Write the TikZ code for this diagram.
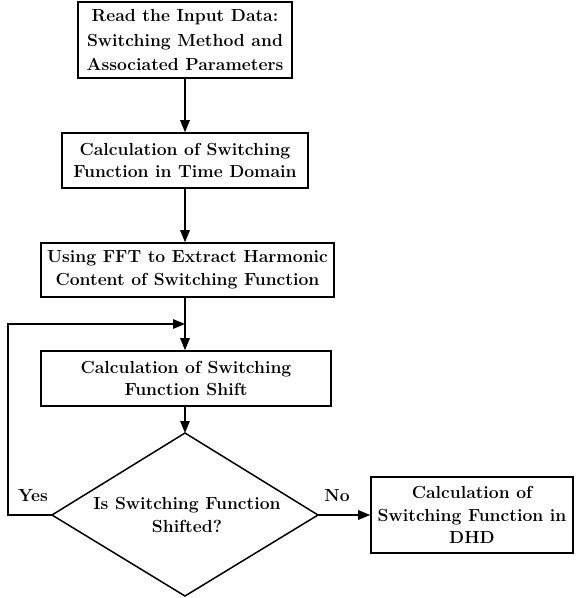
\documentclass[tikz,border=0pt]{standalone}
\usetikzlibrary{arrows.meta}
\begin{document}
\begin{tikzpicture}[x=1pt,y=-1pt,
  box/.style={draw, line width=1.6pt, align=center, inner sep=0pt,
    font=\fontsize{17.5}{22.5}\selectfont\bfseries},
  txt/.style={align=center, inner sep=0pt, font=\fontsize{17.5}{23.5}\selectfont\bfseries},
  lbl/.style={inner sep=0pt, font=\fontsize{17.5}{20}\selectfont\bfseries},
  conn/.style={line width=1.4pt, -{Triangle[length=12pt,width=9.5pt]}},
  line/.style={line width=1.4pt}]
\useasboundingbox (0,0) rectangle (576,598);

\node[box, minimum width=214pt, minimum height=76pt, font=\fontsize{17.5}{24.5}\selectfont\bfseries] (b1) at (185,40)
  {Read the Input Data:\\Switching Method and\\Associated Parameters};
\node[box, minimum width=246pt, minimum height=55pt] (b2) at (185,160.5)
  {Calculation of Switching\\Function in Time Domain};
\node[box, minimum width=293pt, minimum height=54pt] (b3) at (187.5,270)
  {Using FFT to Extract Harmonic\\Content of Switching Function};
\node[box, minimum width=290pt, minimum height=55pt] (b4) at (186,378.5)
  {Calculation of Switching\\Function Shift};

\coordinate (dt) at (185,433);
\coordinate (dl) at (52,515);
\coordinate (dr) at (318,515);
\coordinate (db) at (185,596);
\draw[line width=1.5pt, line join=miter] (dt) -- (dr) -- (db) -- (dl) -- cycle;
\node[txt] (dq) at (187,515) {Is Switching Function\\Shifted?};

\node[box, minimum width=202pt, minimum height=76pt] (b5) at (472,515)
  {Calculation of\\Switching Function in\\DHD};

\coordinate (j) at (185,324);
\coordinate (fl) at (8,515);
\coordinate (fu) at (8,324);

\draw[conn] (b1.south) -- (b2.north);
\draw[conn] (b2.south) -- (b2.south |- b3.north);
\draw[conn] (b2.south |- b3.south) -- (b2.south |- b4.north);
\draw[conn] (b2.south |- b4.south) -- (dt);
\draw[conn, line join=miter] (dl) -- (fl) -- (fu) -- (j);
\draw[conn] (dr) -- (b5.west);

\node[lbl] (yes) at (33,496) {Yes};
\node[lbl] (no) at (337,496) {No};
\end{tikzpicture}
\end{document}
